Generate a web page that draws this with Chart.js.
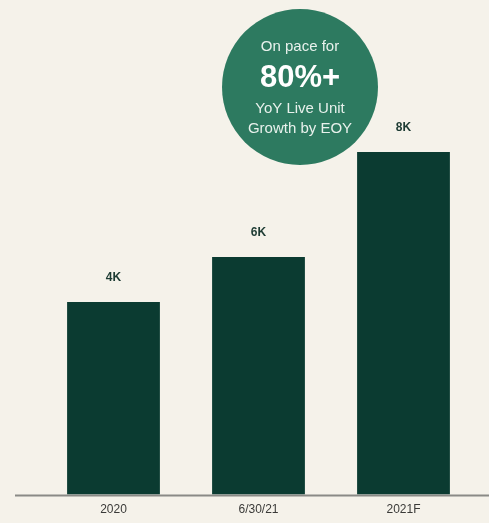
<!DOCTYPE html>
<html>
<head>
<meta charset="utf-8">
<script src="https://cdn.jsdelivr.net/npm/chart.js@4"></script>
<style>
  html, body { margin: 0; padding: 0; background: #f5f2ea; }
  #wrap { width: 489px; height: 523px; }
</style>
</head>
<body>
<div id="wrap"><canvas id="myChart" width="489" height="523"></canvas></div>
<script>
// 데이터
var categories = ["2020", "6/30/21", "2021F"];
var liveUnits = [4.5, 5.55, 8.0];   // 천 단위, 막대 높이에서 읽음
var barLabels = ["4K", "6K", "8K"];
var bubbleLines = ["On pace for", "80%+", "YoY Live Unit", "Growth by EOY"];

var barColor = "#0b3b31";
var bubbleColor = "#2d7a60";

// 막대 위 라벨 + 바닥선 + 원
var extras = {
    id: "extras",
    beforeDatasetsDraw: function (chart) {
        var ctx = chart.ctx;
        var y0 = chart.scales.y.getPixelForValue(0);
        ctx.save();
        ctx.strokeStyle = "#8a8a86";
        ctx.lineWidth = 2;
        ctx.beginPath();
        ctx.moveTo(15, y0 + 1);
        ctx.lineTo(chart.width, y0 + 1);
        ctx.stroke();
        ctx.restore();
    },
    afterDatasetsDraw: function (chart) {
        var ctx = chart.ctx;
        var meta = chart.getDatasetMeta(0);
        ctx.save();
        ctx.fillStyle = "#1d3b33";
        ctx.font = "bold 12px 'Liberation Sans', Arial, sans-serif";
        ctx.textAlign = "center";
        ctx.textBaseline = "middle";
        meta.data.forEach(function (bar, i) {
            ctx.fillText(barLabels[i], bar.x, bar.y - 24);
        });

        // 원
        var cx = 300, cy = 87, r = 78;
        ctx.fillStyle = bubbleColor;
        ctx.beginPath();
        ctx.arc(cx, cy, r, 0, Math.PI * 2);
        ctx.fill();
        ctx.fillStyle = "#e8f1ec";
        ctx.font = "15px 'Liberation Sans', Arial, sans-serif";
        ctx.fillText(bubbleLines[0], cx, 47);
        ctx.fillStyle = "#ffffff";
        ctx.font = "bold 31px 'Liberation Sans', Arial, sans-serif";
        ctx.fillText(bubbleLines[1], cx, 78);
        ctx.fillStyle = "#e8f1ec";
        ctx.font = "15px 'Liberation Sans', Arial, sans-serif";
        ctx.fillText(bubbleLines[2], cx, 109);
        ctx.fillText(bubbleLines[3], cx, 129);
        ctx.restore();
    }
};

var data = {
    labels: categories,
    datasets: [{
        data: liveUnits,
        backgroundColor: barColor,
        borderWidth: 0,
        categoryPercentage: 1,
        barPercentage: 0.64
    }]
};

var config = {
    type: "bar",
    data: data,
    options: {
        responsive: false,
        animation: false,
        layout: { padding: { top: 152, left: 41, right: 13, bottom: -2 } },
        plugins: {
            legend: false,
            tooltip: { enabled: false }
        },
        scales: {
            x: {
                grid: { display: false, drawTicks: false },
                border: { display: false },
                ticks: {
                    color: "#3a3a38",
                    padding: 8,
                    font: { family: "'Liberation Sans', Arial, sans-serif", size: 12 }
                }
            },
            y: {
                display: false,
                min: 0,
                max: 8
            }
        }
    },
    plugins: [extras]
};

var myChart = new Chart(document.getElementById("myChart"), config);
</script>
</body>
</html>
